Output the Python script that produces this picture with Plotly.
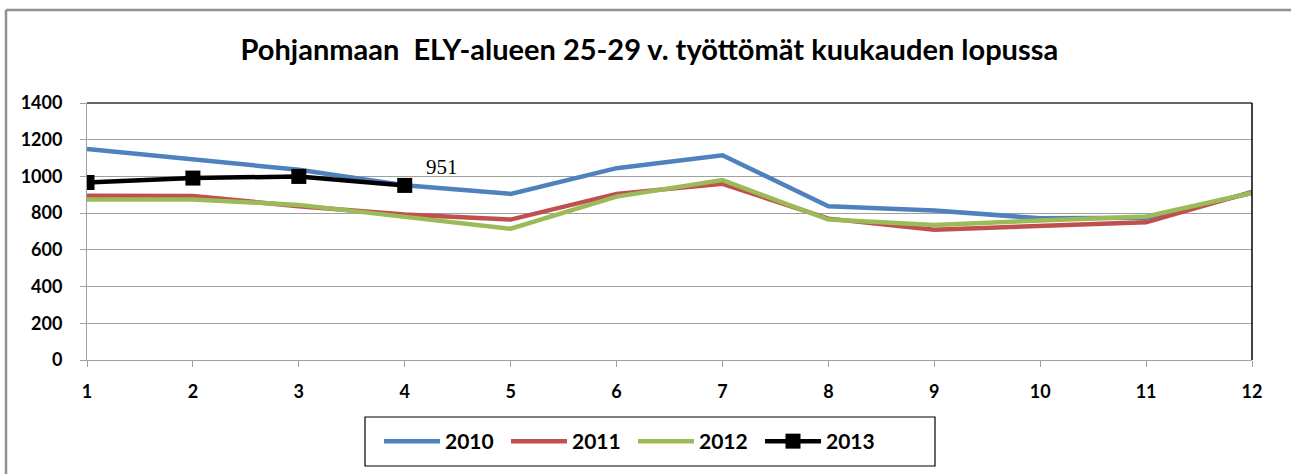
import plotly.graph_objects as go

months = [1, 2, 3, 4, 5, 6, 7, 8, 9, 10, 11, 12]
y2010 = [1150, 1092, 1036, 952, 905, 1045, 1115, 838, 815, 772, 775, 910]
y2011 = [895, 893, 838, 792, 765, 905, 960, 770, 710, 730, 750, 915]
y2012 = [875, 875, 845, 778, 715, 890, 980, 765, 735, 760, 782, 910]
months2013 = [1, 2, 3, 4]
y2013 = [967, 991, 1000, 951]

title = "Pohjanmaan  ELY-alueen 25-29 v. työttömät kuukauden lopussa"
yticks = [0, 200, 400, 600, 800, 1000, 1200, 1400]

W, H = 1291, 474
L, R, T, B = 87, 39, 103, 114
PW, PH = W - L - R, H - T - B


def px(x):
    return (x - L) / PW


def py(y):
    return (H - B - y) / PH


fig = go.Figure()
fig.add_trace(go.Scatter(x=months, y=y2010, mode="lines", name="2010",
                         line=dict(color="#4F81BD", width=4.5)))
fig.add_trace(go.Scatter(x=months, y=y2011, mode="lines", name="2011",
                         line=dict(color="#C0504D", width=4.5)))
fig.add_trace(go.Scatter(x=months, y=y2012, mode="lines", name="2012",
                         line=dict(color="#9BBB59", width=4.5)))
fig.add_trace(go.Scatter(x=months2013, y=y2013, mode="lines+markers", name="2013",
                         line=dict(color="#000000", width=4.5),
                         marker=dict(symbol="square", size=15, color="#000000")))

fig.add_annotation(x=months2013[-1], y=y2013[-1], text=str(y2013[-1]),
                   showarrow=False, xshift=37, yshift=18,
                   font=dict(family="Liberation Serif", size=21, color="#000000"))

fig.update_layout(
    width=W, height=H,
    margin=dict(l=L, r=R, t=T, b=B, autoexpand=False),
    paper_bgcolor="white", plot_bgcolor="white",
    font=dict(family="Lato", color="#000000"),
    title=dict(text=title, x=0.503, xanchor="center", y=0.895, yanchor="middle",
               font=dict(family="Lato", size=29, weight="bold", color="#000000")),
    showlegend=True,
    legend=dict(orientation="h", x=px(379), xanchor="left", y=py(441.5), yanchor="middle",
                borderwidth=0, bgcolor="rgba(0,0,0,0)",
                font=dict(family="Lato", size=21, weight="bold"),
                itemwidth=56, entrywidth=56, tracegroupgap=0),
)
fig.update_xaxes(range=[1, 12], tickmode="array", tickvals=months,
                 showgrid=False, showline=True, linecolor="#A0A0A0", linewidth=1,
                 ticks="outside", ticklen=6, tickcolor="#A0A0A0",
                 ticklabelstandoff=9,
                 tickfont=dict(family="Lato", size=18, weight="bold"), zeroline=False)
fig.update_yaxes(range=[0, 1400], tickmode="array", tickvals=yticks,
                 showgrid=True, gridcolor="#A0A0A0", gridwidth=1,
                 showline=True, linecolor="#A0A0A0", linewidth=1,
                 ticks="outside", ticklen=6, tickcolor="#A0A0A0",
                 ticklabelstandoff=14,
                 tickfont=dict(family="Lato", size=18, weight="bold"), zeroline=False)

# plot area top/right border
fig.add_shape(type="line", xref="paper", yref="paper", x0=0, x1=1, y0=1, y1=1,
              line=dict(color="#303030", width=1.5))
fig.add_shape(type="line", xref="paper", yref="paper", x0=1, x1=1, y0=0, y1=1,
              line=dict(color="#000000", width=1.5))
# legend box
fig.add_shape(type="rect", xref="paper", yref="paper",
              x0=px(365), x1=px(935), y0=py(466), y1=py(417),
              line=dict(color="#000000", width=1.2), layer="below")
# outer chart border (top and left edges visible)
fig.add_shape(type="line", xref="paper", yref="paper",
              x0=px(6), x1=px(1291), y0=py(10), y1=py(10),
              line=dict(color="#909090", width=2.5))
fig.add_shape(type="line", xref="paper", yref="paper",
              x0=px(6), x1=px(6), y0=py(10), y1=py(474),
              line=dict(color="#909090", width=2.5))

fig.write_html("out.html", config={"displayModeBar": False},
               post_script="document.body.style.margin='0';")
